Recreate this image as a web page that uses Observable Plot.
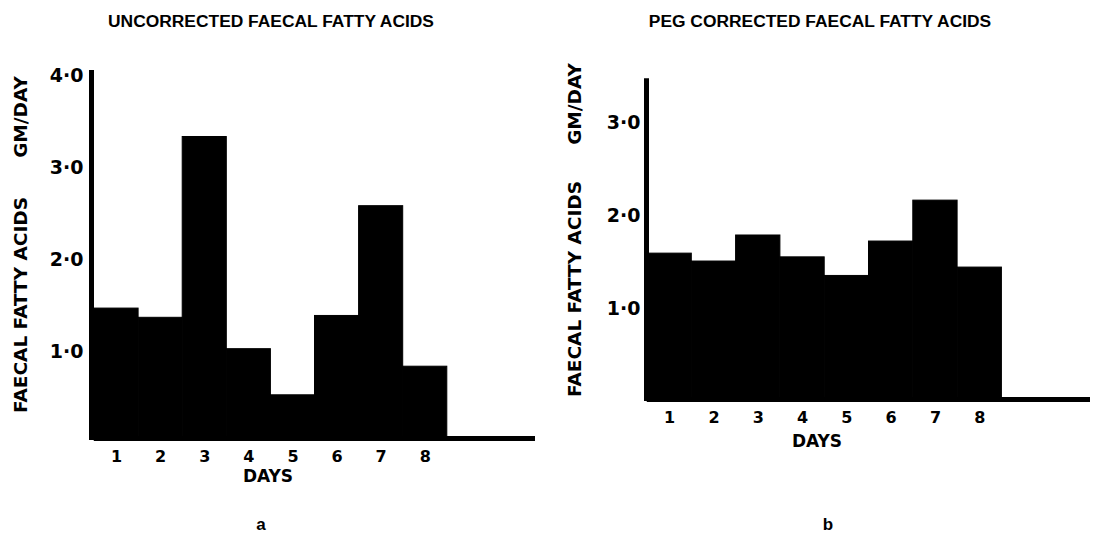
<!DOCTYPE html>
<html>
<head>
<meta charset="utf-8">
<script src="https://cdn.jsdelivr.net/npm/d3@7"></script>
<script src="https://cdn.jsdelivr.net/npm/@observablehq/plot@0.6"></script>
<style>
  html, body { margin: 0; padding: 0; background: #fff; }
  #wrap { position: relative; width: 1093px; height: 536px; overflow: hidden; background: #fff; }
  #wrap > svg, #wrap > figure { position: absolute; top: 0; margin: 0; }
  .t { position: absolute; white-space: nowrap; color: #000; }
  .title { font-family: "Liberation Sans", Arial, sans-serif; font-weight: bold; font-size: 17.4px; line-height: 17.4px; transform: translateX(-50%); }
  .ylab { font-family: "DejaVu Sans", sans-serif; font-weight: bold; font-size: 18.5px; line-height: 18.5px; transform: translate(-50%, -50%) rotate(-90deg); }
  .xlab { font-family: "DejaVu Sans", sans-serif; font-weight: bold; font-size: 17px; line-height: 17px; transform: translateX(-50%); }
  .cap { font-family: "Liberation Sans", Arial, sans-serif; font-weight: bold; font-size: 17px; line-height: 17px; transform: translateX(-50%); }
</style>
</head>
<body>
<div id="wrap">
  <div class="t title" style="left:271px; top:12.5px;">UNCORRECTED FAECAL FATTY ACIDS</div>
  <div class="t title" style="left:820px; top:12.5px;">PEG CORRECTED FAECAL FATTY ACIDS</div>
  <div class="t ylab" style="left:20.5px; top:116.5px;">GM/DAY</div>
  <div class="t ylab" style="left:20.5px; top:305px;">FAECAL FATTY ACIDS</div>
  <div class="t ylab" style="left:575px; top:104px;">GM/DAY</div>
  <div class="t ylab" style="left:575px; top:289px;">FAECAL FATTY ACIDS</div>
  <div class="t xlab" style="left:268px; top:467.6px;">DAYS</div>
  <div class="t xlab" style="left:817px; top:432.6px;">DAYS</div>
  <div class="t cap" style="left:261px; top:515.6px;">a</div>
  <div class="t cap" style="left:828px; top:515.6px;">b</div>
</div>
<script>
// ---- data ----
const days = [1, 2, 3, 4, 5, 6, 7, 8];
const uncorrected = [1.43, 1.33, 3.29, 0.99, 0.49, 1.35, 2.54, 0.80];
const pegCorrected = [1.59, 1.505, 1.785, 1.55, 1.35, 1.72, 2.16, 1.44];
const ticksA = [1, 2, 3, 4];
const ticksB = [1, 2, 3];

const fmt = d => d.toFixed(1).replace(".", "\u00B7");

function panel({values, yTicks, yMax, axisTop, left, width, marginLeft, marginRight, marginTop, marginBottom, ruleDx, tickPadding, tickDy}) {
  const data = days.map((d, i) => ({day: d, value: values[i]}));
  const xEnd = 10.5;
  const chart = Plot.plot({
    width, height: 536,
    marginLeft, marginRight, marginTop, marginBottom,
    x: {domain: [0.5, xEnd], axis: null},
    y: {domain: [0, yMax], axis: null},
    style: {background: "transparent", overflow: "visible", fontFamily: "DejaVu Sans"},
    marks: [
      Plot.rectY(data, {x1: d => d.day - 0.5, x2: d => d.day + 0.5, y1: 0, y2: "value", fill: "#000", stroke: "#000", strokeWidth: 1}),
      Plot.ruleY([0], {x1: 0.5, x2: xEnd, stroke: "#000", strokeWidth: 5, dy: -2}),
      Plot.ruleX([0.5], {y1: 0, y2: axisTop, stroke: "#000", strokeWidth: 5, dx: ruleDx}),
      Plot.axisY({ticks: yTicks, tickFormat: fmt, tickSize: 0, tickPadding, label: null,
        fontSize: 19, fontWeight: "bold", fontFamily: "DejaVu Sans", fill: "#000", dy: tickDy}),
      Plot.axisX({ticks: days, tickFormat: d => String(d), tickSize: 0, tickPadding: 10, label: null,
        fontSize: 16, fontWeight: "bold", fontFamily: "DejaVu Sans", fill: "#000"})
    ]
  });
  chart.style.left = left + "px";
  document.getElementById("wrap").appendChild(chart);
}

panel({values: uncorrected, yTicks: ticksA, yMax: 4, axisTop: 4.01, left: 0, width: 546,
  marginLeft: 94, marginRight: 11, marginTop: 71, marginBottom: 96, ruleDx: -3, tickPadding: 11, tickDy: 4});
panel({values: pegCorrected, yTicks: ticksB, yMax: 3.5, axisTop: 3.47, left: 546, width: 547,
  marginLeft: 101, marginRight: 3, marginTop: 75.5, marginBottom: 135, ruleDx: -1, tickPadding: 7, tickDy: 0});
</script>
</body>
</html>
